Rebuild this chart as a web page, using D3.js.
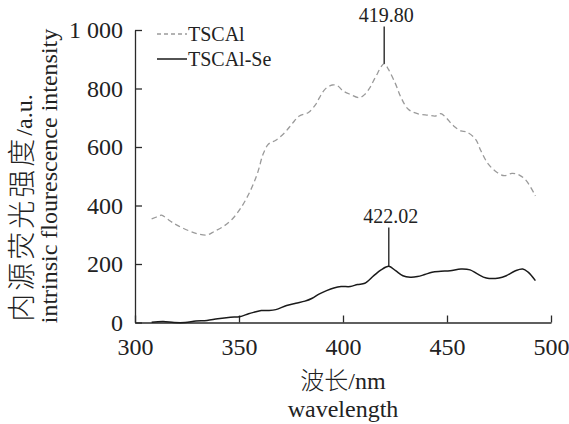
<!DOCTYPE html>
<html>
<head>
<meta charset="utf-8">
<script src="https://cdn.jsdelivr.net/npm/d3@7/dist/d3.min.js"></script>
<style>
  html, body { margin: 0; padding: 0; background: #fff; }
  svg { display: block; }
  text { font-family: "Liberation Serif", "Noto Sans CJK SC", serif; fill: #222; }
  .cjk { font-weight: 300; }
</style>
</head>
<body>
<svg id="chart" width="569" height="424"></svg>
<script>
// Wavelength (nm) and intrinsic fluorescence intensity (a.u.)
const tscalWavelength = [308, 311.9, 312.7, 317.1, 320.6, 325.8, 330.2, 334.6, 338, 342.4,
  346.8, 351.1, 355.5, 359, 361.6, 364.2, 367.7, 372.1, 375.6, 379, 383.4, 386.9, 388.7,
  391.3, 394.8, 397.4, 400, 403.5, 407.9, 410.5, 413.1, 415.7, 419.8, 421.8, 425.3, 427.9,
  431.4, 435.8, 441, 444.5, 447.1, 449.7, 453.2, 456.7, 459.3, 463.7, 466.3, 469.8, 474.1,
  477.6, 481.2, 484.6, 488.1, 492.5];
const tscalIntensity = [354, 365, 367, 346, 331, 314, 303, 299, 311, 328,
  354, 394, 451, 513, 576, 610, 623, 650, 680, 706, 718, 746, 769,
  797, 812, 809, 792, 780, 769, 780, 805, 840, 885, 866, 815, 769,
  729, 714, 709, 706, 714, 699, 672, 655, 652, 627, 587, 542, 513,
  502, 510, 505, 485, 433];

const seWavelength = [308, 313.6, 318.8, 324.1, 329.3, 334.6, 339.8, 345.9, 350.3, 354.6,
  357.2, 360.7, 364.2, 367.7, 372.9, 377.3, 381.7, 385.2, 388.7, 392.1, 395.6, 399.1,
  403.5, 407, 410.5, 414.8, 418.3, 422.02, 425.3, 428.8, 432.3, 435.8, 439.3, 442.8,
  447.1, 451.5, 456.7, 461.1, 464.6, 468.9, 475, 478.5, 482.9, 486.4, 489, 492.5];
const seIntensity = [1, 3, 0, 0, 5, 7, 13, 18, 20, 30,
  35, 41, 41, 44, 58, 66, 73, 83, 98, 109, 118, 123,
  123, 130, 134, 160, 180, 192, 177, 160, 155, 157, 164, 172,
  175, 177, 183, 180, 166, 152, 152, 160, 177, 183, 172, 143];

const seriesNames = ["TSCAl", "TSCAl-Se"];
const peakWavelengths = [419.80, 422.02];
const peakLabels = ["419.80", "422.02"];

const xTicks = [300, 350, 400, 450, 500];
const xTickLabels = ["300", "350", "400", "450", "500"];
const yTicks = [0, 200, 400, 600, 800, 1000];
const yTickLabels = ["0", "200", "400", "600", "800", "1 000"];

const svg = d3.select("#chart");

const x = d3.scaleLinear().domain([300, 500]).range([135, 551]);
const y = d3.scaleLinear().domain([0, 1000]).range([322.5, 30]);

const axisColor = "#2a2a2a";

// Axes with inward ticks
const xAxis = d3.axisBottom(x)
  .tickValues(xTicks)
  .tickFormat((d, i) => xTickLabels[i])
  .tickSizeInner(-7).tickSizeOuter(0).tickPadding(15.5);
const yAxis = d3.axisLeft(y)
  .tickValues(yTicks)
  .tickFormat((d, i) => yTickLabels[i])
  .tickSizeInner(-7).tickSizeOuter(0).tickPadding(12);

const gx = svg.append("g").attr("transform", `translate(0,${y(0)})`).call(xAxis);
const gy = svg.append("g").attr("transform", `translate(${x(300)},0)`).call(yAxis);
[gx, gy].forEach(g => {
  g.select(".domain").attr("stroke", axisColor).attr("stroke-width", 1.3);
  g.selectAll(".tick line").attr("stroke", axisColor).attr("stroke-width", 1.3);
  g.selectAll(".tick text")
    .attr("font-size", 24).attr("fill", "#222");
});
gy.selectAll(".tick text").attr("dy", "0.33em");

// Spectra
const line = d3.line()
  .x(d => x(d[0])).y(d => y(d[1]))
  .curve(d3.curveCatmullRom.alpha(0.5));

const tscal = tscalWavelength.map((w, i) => [w, tscalIntensity[i]]);
const se = seWavelength.map((w, i) => [w, seIntensity[i]]);

svg.append("path").datum(tscal)
  .attr("d", line).attr("fill", "none")
  .attr("stroke", "#9a9a9a").attr("stroke-width", 1.3)
  .attr("stroke-dasharray", "5.5,3.5");
svg.append("path").datum(se)
  .attr("d", line).attr("fill", "none")
  .attr("stroke", "#1a1a1a").attr("stroke-width", 1.5);

// Peak markers
const peakValues = [
  tscalIntensity[tscalWavelength.indexOf(peakWavelengths[0])],
  seIntensity[seWavelength.indexOf(peakWavelengths[1])]
];
const peakTops = [26.5, 227.5];
peakWavelengths.forEach((w, i) => {
  svg.append("line")
    .attr("x1", x(w)).attr("x2", x(w))
    .attr("y1", y(peakValues[i])).attr("y2", peakTops[i])
    .attr("stroke", "#1a1a1a").attr("stroke-width", 1.3);
  svg.append("text")
    .attr("x", x(w) + 2).attr("y", peakTops[i] - 4.5)
    .attr("text-anchor", "middle")
    .attr("font-size", 20)
    .text(peakLabels[i]);
});

// Legend
const legend = svg.append("g");
const legendRows = [
  { y: 34, dash: "4,3", color: "#9a9a9a", width: 1.3 },
  { y: 59, dash: null, color: "#1a1a1a", width: 1.5 }
];
legendRows.forEach((r, i) => {
  legend.append("line")
    .attr("x1", 157).attr("x2", 187)
    .attr("y1", r.y).attr("y2", r.y)
    .attr("stroke", r.color).attr("stroke-width", r.width)
    .attr("stroke-dasharray", r.dash);
  legend.append("text")
    .attr("x", 188).attr("y", r.y + 7)
    .attr("font-size", 20)
    .text(seriesNames[i]);
});

// Axis titles
const xTitleCn = svg.append("text")
  .attr("x", 343).attr("y", 389)
  .attr("text-anchor", "middle").attr("font-size", 24);
xTitleCn.append("tspan").attr("class", "cjk").text("波长");
xTitleCn.append("tspan").text("/nm");
svg.append("text")
  .attr("x", 343).attr("y", 417)
  .attr("text-anchor", "middle").attr("font-size", 24)
  .text("wavelength");

const yTitleCn = svg.append("text")
  .attr("transform", "translate(32,208) rotate(-90)")
  .attr("text-anchor", "middle");
yTitleCn.append("tspan").attr("class", "cjk")
  .attr("font-size", 28).attr("letter-spacing", 3)
  .text("内源荧光强度");
yTitleCn.append("tspan").attr("font-size", 24).text("/a.u.");
svg.append("text")
  .attr("transform", "translate(57,176) rotate(-90)")
  .attr("text-anchor", "middle").attr("font-size", 24)
  .text("intrinsic flourescence intensity");
</script>
</body>
</html>
